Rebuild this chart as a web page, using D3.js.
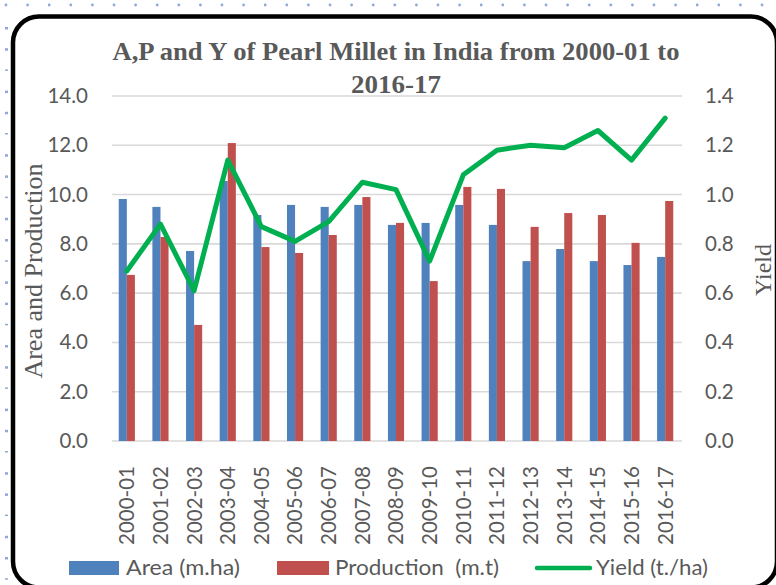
<!DOCTYPE html>
<html>
<head>
<meta charset="utf-8">
<script src="https://cdn.jsdelivr.net/npm/d3@7"></script>
<style>
  html, body { margin: 0; padding: 0; background: #fff; }
  svg { display: block; }
  .tick-label { font-family: Lato, "Open Sans", sans-serif; font-size: 20.5px; fill: #595959; }
  .axis-title { font-family: "Liberation Serif", "DejaVu Serif", serif; fill: #595959; }
  .legend-label { font-family: Lato, "Open Sans", sans-serif; font-size: 20.5px; fill: #595959; }
</style>
</head>
<body>
<div id="chart"></div>
<script>
// chart data
var years = ['2000-01', '2001-02', '2002-03', '2003-04', '2004-05', '2005-06', '2006-07', '2007-08',
             '2008-09', '2009-10', '2010-11', '2011-12', '2012-13', '2013-14', '2014-15', '2015-16', '2016-17'];
var area = [9.82, 9.50, 7.71, 10.55, 9.17, 9.58, 9.50, 9.58, 8.77, 8.85, 9.58, 8.77, 7.30, 7.79, 7.30, 7.14, 7.47];
var production = [6.74, 8.28, 4.71, 12.09, 7.87, 7.63, 8.36, 9.90, 8.85, 6.49, 10.31, 10.23, 8.69, 9.25, 9.17, 8.04, 9.74];
var yieldValues = [0.69, 0.88, 0.61, 1.14, 0.87, 0.81, 0.89, 1.05, 1.02, 0.73, 1.08, 1.18, 1.20, 1.19, 1.26, 1.14, 1.31];
var leftTicks = [0, 2, 4, 6, 8, 10, 12, 14];
var rightTicks = [0, 0.2, 0.4, 0.6, 0.8, 1.0, 1.2, 1.4];

var width = 776,
    height = 585,
    margin = {top: 96, right: 94, bottom: 144, left: 110};

var chartWidth = width - margin.left - margin.right,
    chartHeight = height - margin.top - margin.bottom;

var svg = d3.select('#chart').append('svg')
    .attr('width', width)
    .attr('height', height);

// dotted page edge
var dotsTop = d3.range(6, width, 21.6);
svg.selectAll('.dotTop').data(dotsTop).enter().append('circle')
    .attr('cx', function(d) { return d; })
    .attr('cy', 5)
    .attr('r', 1.4)
    .attr('fill', '#8eaadb');
var dotsLeft = d3.range(28, height, 21.2);
svg.selectAll('.dotLeft').data(dotsLeft).enter().append('rect')
    .attr('x', 5)
    .attr('y', function(d) { return d - 1; })
    .attr('width', 3)
    .attr('height', function(d, i) { return i % 3 == 2 ? 1.5 : 2.5; })
    .attr('fill', '#8eaadb');

// rounded frame (right edge runs just off the page)
svg.append('rect')
    .attr('x', 13)
    .attr('y', 16.5)
    .attr('width', 764)
    .attr('height', 571)
    .attr('rx', 26)
    .attr('fill', '#fff')
    .attr('stroke', '#000')
    .attr('stroke-width', 4.5);

var g = svg.append('g')
    .attr('transform', 'translate(' + margin.left + ',' + margin.top + ')');

// scales
var x = d3.scaleBand()
    .domain(years)
    .range([0, chartWidth])
    .paddingInner(0.52)
    .paddingOuter(0.26);

var xSeries = d3.scaleBand()
    .domain(['area', 'production'])
    .range([0, x.bandwidth()]);

var y = d3.scaleLinear().domain([0, 14]).range([chartHeight, 0]);
var y2 = d3.scaleLinear().domain([0, 1.4]).range([chartHeight, 0]);

// gridlines
g.selectAll('.grid').data(leftTicks).enter().append('line')
    .attr('x1', 2)
    .attr('x2', chartWidth)
    .attr('y1', function(d) { return y(d); })
    .attr('y2', function(d) { return y(d); })
    .attr('stroke', '#d9d9d9')
    .attr('stroke-width', 1.6);

// bars
g.selectAll('.barArea').data(area).enter().append('rect')
    .attr('x', function(d, i) { return x(years[i]) + xSeries('area'); })
    .attr('y', function(d) { return y(d); })
    .attr('width', xSeries.bandwidth())
    .attr('height', function(d) { return chartHeight - y(d); })
    .attr('fill', '#4f81bd');

g.selectAll('.barProd').data(production).enter().append('rect')
    .attr('x', function(d, i) { return x(years[i]) + xSeries('production'); })
    .attr('y', function(d) { return y(d); })
    .attr('width', xSeries.bandwidth())
    .attr('height', function(d) { return chartHeight - y(d); })
    .attr('fill', '#c0504d');

// yield line
var yieldLine = d3.line()
    .x(function(d, i) { return x(years[i]) + x.bandwidth() / 2; })
    .y(function(d) { return y2(d); });

g.append('path')
    .datum(yieldValues)
    .attr('d', yieldLine)
    .attr('fill', 'none')
    .attr('stroke', '#00b050')
    .attr('stroke-width', 5)
    .attr('stroke-linejoin', 'round')
    .attr('stroke-linecap', 'round');

// left axis labels
var leftAxis = d3.axisLeft(y).tickValues(leftTicks).tickSize(0).tickPadding(22)
    .tickFormat(d3.format('.1f'));
g.append('g').call(leftAxis)
    .call(function(a) { a.select('.domain').remove(); })
    .selectAll('text').attr('class', 'tick-label').attr('font-family', null).attr('font-size', null);

// right axis labels
var rightAxis = d3.axisRight(y2).tickValues(rightTicks).tickSize(0).tickPadding(23)
    .tickFormat(d3.format('.1f'));
g.append('g').attr('transform', 'translate(' + chartWidth + ',0)').call(rightAxis)
    .call(function(a) { a.select('.domain').remove(); })
    .selectAll('text').attr('class', 'tick-label').attr('font-family', null).attr('font-size', null);

// x axis labels, rotated
g.selectAll('.xLabel').data(years).enter().append('text')
    .attr('class', 'tick-label')
    .attr('transform', function(d) {
      return 'translate(' + (x(d) + x.bandwidth() / 2) + ',' + (chartHeight + 25) + ') rotate(-90)';
    })
    .attr('text-anchor', 'end')
    .attr('dy', '0.36em')
    .text(function(d) { return d; });

// title
var title = svg.append('g').attr('class', 'axis-title')
    .attr('font-weight', 'bold')
    .attr('font-size', '25px');
title.append('text')
    .attr('x', 396).attr('y', 60)
    .attr('text-anchor', 'middle')
    .attr('textLength', 567)
    .attr('lengthAdjust', 'spacingAndGlyphs')
    .text('A,P and Y of Pearl Millet in India from 2000-01 to');
title.append('text')
    .attr('x', 396).attr('y', 93)
    .attr('text-anchor', 'middle')
    .attr('textLength', 90)
    .attr('lengthAdjust', 'spacingAndGlyphs')
    .text('2016-17');

// axis titles
svg.append('text')
    .attr('class', 'axis-title')
    .attr('font-size', '26px')
    .attr('transform', 'translate(42,271) rotate(-90)')
    .attr('text-anchor', 'middle')
    .text('Area and Production');

svg.append('text')
    .attr('class', 'axis-title')
    .attr('font-size', '24px')
    .attr('transform', 'translate(771,270) rotate(-90)')
    .attr('text-anchor', 'middle')
    .text('Yield');

// legend
var legend = svg.append('g').attr('transform', 'translate(0,568)');
legend.append('rect').attr('x', 69).attr('y', -7).attr('width', 50).attr('height', 14).attr('fill', '#4f81bd');
legend.append('text').attr('class', 'legend-label').attr('x', 126).attr('dy', '0.35em')
    .attr('textLength', 114).attr('lengthAdjust', 'spacingAndGlyphs')
    .text('Area (m.ha)');
legend.append('rect').attr('x', 277).attr('y', -7).attr('width', 52).attr('height', 14).attr('fill', '#c0504d');
legend.append('text').attr('class', 'legend-label').attr('x', 335).attr('dy', '0.35em')
    .attr('xml:space', 'preserve')
    .attr('textLength', 164).attr('lengthAdjust', 'spacingAndGlyphs')
    .text('Production  (m.t)');
legend.append('line').attr('x1', 537).attr('x2', 590).attr('y1', 0).attr('y2', 0)
    .attr('stroke', '#00b050').attr('stroke-width', 4.5).attr('stroke-linecap', 'round');
legend.append('text').attr('class', 'legend-label').attr('x', 596).attr('dy', '0.35em')
    .attr('textLength', 112).attr('lengthAdjust', 'spacingAndGlyphs')
    .text('Yield (t./ha)');
</script>
</body>
</html>
